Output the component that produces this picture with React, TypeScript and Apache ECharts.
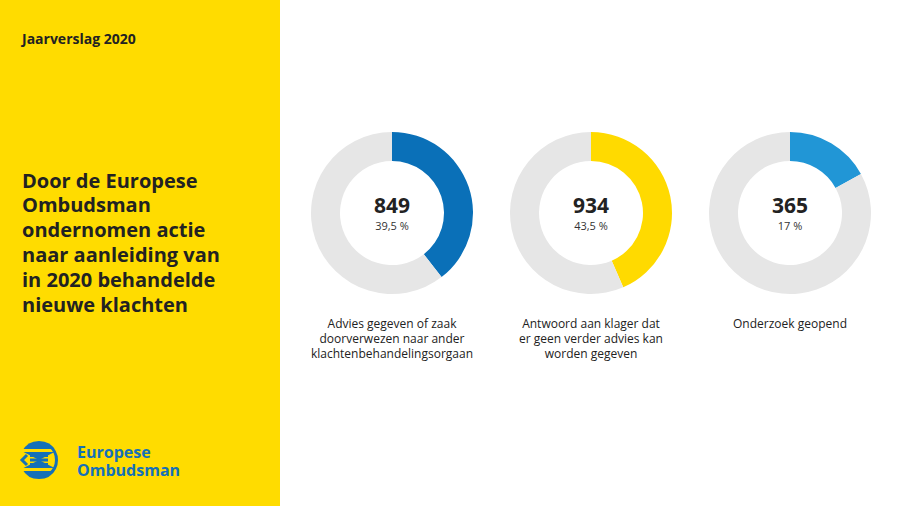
import React, { useEffect, useRef } from "react";
import * as echarts from "echarts";

const categories = [
  ["Advies gegeven of zaak", "doorverwezen naar ander", "klachtenbehandelingsorgaan"],
  ["Antwoord aan klager dat", "er geen verder advies kan", "worden gegeven"],
  ["Onderzoek geopend"],
];
const values = [849, 934, 365];
const pctLabels = ["39,5 %", "43,5 %", "17 %"];
const colors = ["#0A70B8", "#FFDA00", "#2196D6"];
const headerText = "Jaarverslag 2020";
const titleLines = [
  "Door de Europese",
  "Ombudsman",
  "ondernomen actie",
  "naar aanleiding van",
  "in 2020 behandelde",
  "nieuwe klachten",
];
const logoLines = ["Europese", "Ombudsman"];

const FONT = "'Open Sans', 'Noto Sans', sans-serif";
const YELLOW = "#FFDC00";
const LOGO_BLUE = "#1570B8";

export default function App() {
  const ref = useRef<HTMLDivElement>(null);
  useEffect(() => {
    document.body.style.margin = "0";
    const chart = echarts.init(ref.current!, null, { renderer: "svg" });
    const total = values.reduce((a, b) => a + b, 0);
    const centersX = [392, 591, 790];
    const cy = 213;

    const series = values.map((v, i) => ({
      type: "pie",
      center: [centersX[i], cy],
      radius: [52, 81],
      startAngle: 90,
      clockwise: true,
      silent: true,
      emphasis: { disabled: true },
      labelLine: { show: false },
      data: [
        {
          value: v,
          itemStyle: { color: colors[i] },
          label: {
            show: true,
            position: "center",
            formatter: `{v|${v}}\n{p|${pctLabels[i]}}`,
            rich: {
              v: { fontSize: 21, fontWeight: "bold", color: "#222", fontFamily: FONT, lineHeight: 24 },
              p: { fontSize: 11, color: "#333", fontFamily: FONT, lineHeight: 16 },
            },
          },
        },
        {
          value: total - v,
          itemStyle: { color: "#E6E6E6" },
          label: { show: false },
        },
      ],
    }));

    const captions: any[] = [];
    categories.forEach((lines, i) => {
      lines.forEach((line, j) => {
        captions.push({
          type: "text",
          x: centersX[i],
          y: 323 + j * 15,
          style: {
            text: line,
            fill: "#222",
            font: `12px ${FONT}`,
            align: "center",
            verticalAlign: "middle",
          },
        });
      });
    });

    const logoTexts = logoLines.map((line, j) => ({
      type: "text",
      x: 77,
      y: 452 + j * 18,
      style: {
        text: line,
        fill: LOGO_BLUE,
        font: `bold 16px ${FONT}`,
        verticalAlign: "middle",
      },
    }));

    const titleTexts = titleLines.map((line, j) => ({
      type: "text",
      x: 22,
      y: 180 + j * 24.8,
      style: {
        text: line,
        fill: "#222",
        font: `bold 20px ${FONT}`,
        verticalAlign: "middle",
      },
    }));

    const logo = {
      type: "group",
      x: 39,
      y: 460,
      children: [
        { type: "sector", shape: { cx: 0, cy: 0, r: 19, r0: 0, startAngle: Math.PI * 1.15, endAngle: Math.PI * 1.85 }, style: { fill: LOGO_BLUE } },
        { type: "sector", shape: { cx: 0, cy: 0, r: 19, r0: 0, startAngle: Math.PI * 0.15, endAngle: Math.PI * 0.85 }, style: { fill: LOGO_BLUE } },
        { type: "rect", shape: { x: -19, y: -11, width: 38, height: 3 }, style: { fill: YELLOW } },
        { type: "rect", shape: { x: -19, y: 8, width: 38, height: 3 }, style: { fill: YELLOW } },
        { type: "arc", shape: { cx: 0, cy: 0, r: 17.5, startAngle: -Math.PI * 0.3, endAngle: Math.PI * 0.3 }, style: { stroke: LOGO_BLUE, lineWidth: 3, fill: "none" } },
        { type: "rect", shape: { x: -9, y: -6, width: 18, height: 3 }, style: { fill: LOGO_BLUE } },
        { type: "rect", shape: { x: -9, y: -1.5, width: 18, height: 3 }, style: { fill: LOGO_BLUE } },
        { type: "rect", shape: { x: -9, y: 3, width: 18, height: 3 }, style: { fill: LOGO_BLUE } },
        { type: "polyline", shape: { points: [[-12, -5], [-17, 0], [-12, 5]] }, style: { stroke: LOGO_BLUE, lineWidth: 3, fill: "none" } },
      ],
    };

    chart.setOption({
      animation: false,
      backgroundColor: "#FFFFFF",
      series,
      graphic: [
        { type: "rect", z: -10, shape: { x: 0, y: 0, width: 280, height: 506 }, style: { fill: YELLOW } },
        {
          type: "text",
          x: 22,
          y: 38,
          style: { text: headerText, fill: "#222", font: `bold 14px ${FONT}`, verticalAlign: "middle" },
        },
        ...titleTexts,
        ...logoTexts,
        logo,
        ...captions,
      ],
    });
    return () => chart.dispose();
  }, []);
  return <div ref={ref} style={{ width: 900, height: 506 }} />;
}
